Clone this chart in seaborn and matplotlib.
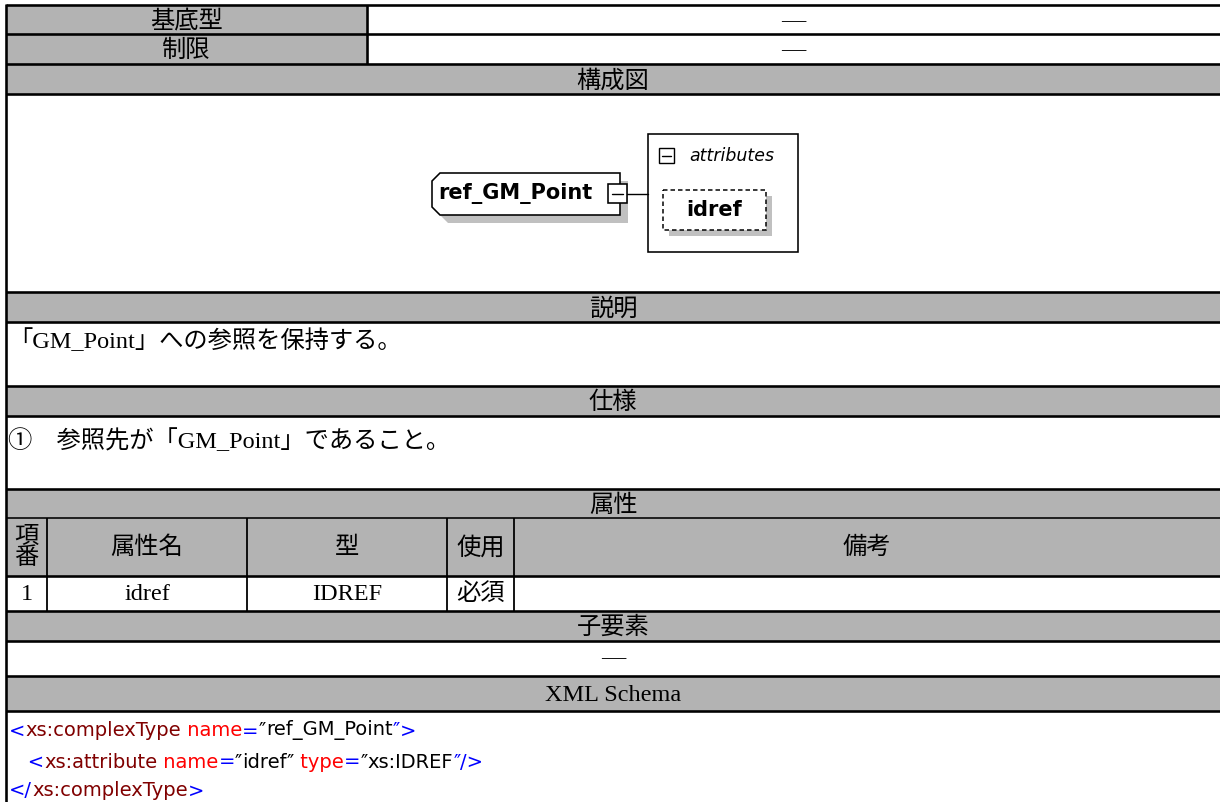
import matplotlib
matplotlib.use("Agg")
import matplotlib.pyplot as plt
import seaborn as sns
from matplotlib.patches import Rectangle, Polygon

# Data
info_labels = ["基底型", "制限"]
info_values = ["―", "―"]
section_titles = ["構成図", "説明", "仕様", "属性", "子要素", "XML Schema"]
description = "「GM_Point」への参照を保持する。"
spec_text = "①　参照先が「GM_Point」であること。"
attr_columns = ["項\n番", "属性名", "型", "使用", "備考"]
attr_rows = [["1", "idref", "IDREF", "必須", ""]]
child_elements = "―"
element_name = "ref_GM_Point"
group_name = "attributes"
attribute_names = ["idref"]

BLUE, MAROON, RED, BLACK = "#0000ff", "#800000", "#ff0000", "#000000"
xml_line1 = [("<", BLUE), ("xs:complexType", MAROON), (" name", RED), ("=", BLUE),
             ("″", BLACK), ("ref_GM_Point", BLACK), ("″", BLUE), (">", BLUE)]
xml_line2 = [("   <", BLUE), ("xs:attribute", MAROON), (" name", RED), ("=", BLUE),
             ("″", BLACK), ("idref", BLACK), ("″", BLACK), (" type", RED), ("=", BLUE),
             ("″", BLACK), ("xs:IDREF", BLACK), ("″", BLUE), ("/>", BLUE)]
xml_line3 = [("</", BLUE), ("xs:complexType", MAROON), (">", BLUE)]
xml_lines = [xml_line1, xml_line2, xml_line3]

sns.set_theme(style="white")
plt.rcParams["font.family"] = ["Noto Sans CJK JP", "DejaVu Sans"]
plt.rcParams["text.color"] = "black"

GRAY = "#b3b3b3"
SHADOW = "#c0c0c0"
W, H = 1220, 802
L = 6
PX = 0.72  # points per pixel at dpi 100
tfont = dict(family=["Liberation Serif", "Noto Sans CJK JP"], fontsize=17.5, color="black")

fig = plt.figure(figsize=(W / 100, H / 100), dpi=100)
ax = fig.add_axes([0, 0, 1, 1])
ax.set_xlim(0, W)
ax.set_ylim(H, 0)
ax.axis("off")


def fill(x0, y0, x1, y1, color=GRAY):
    ax.add_patch(Rectangle((x0, y0), x1 - x0, y1 - y0, facecolor=color, edgecolor="none", zorder=1))


def hline(y, x0=L, x1=W, px=2.6):
    ax.plot([x0, x1], [y, y], color="black", lw=px * PX, solid_capstyle="butt", zorder=5)


def vline(x, y0, y1, px=2.6):
    ax.plot([x, x], [y0, y1], color="black", lw=px * PX, solid_capstyle="butt", zorder=5)


def ctext(x, y, s, **kw):
    ax.text(x, y + 2, s, ha="center", va="center", zorder=6, **{**tfont, **kw})


mid = (L + W) / 2

# info rows
rows_info = [(5, 34), (34, 64)]
for (y0, y1), lab, val in zip(rows_info, info_labels, info_values):
    fill(L, y0, 367, y1)
    ctext((L + 367) / 2, (y0 + y1) / 2, lab)
    ctext((367 + W) / 2, (y0 + y1) / 2, val)
vline(367, 5, 64)

# section headers
headers = [(64, 94), (292, 322), (386, 416), (489, 518), (611, 641), (676, 711)]
for (y0, y1), title in zip(headers, section_titles):
    fill(L, y0, W, y1)
    ctext(mid, (y0 + y1) / 2, title)

# description / spec
ax.text(8, 341, description, ha="left", va="center", zorder=6, **tfont)
ax.text(8, 441, spec_text, ha="left", va="center", zorder=6, **tfont)

# attribute table
col_x = [L, 47, 247, 447, 514, W]
fill(L, 518, W, 576)
for i, name in enumerate(attr_columns):
    cx = (col_x[i] + col_x[i + 1]) / 2
    ctext(cx, 546, name, linespacing=0.92)
for r, row in enumerate(attr_rows):
    for i, val in enumerate(row):
        cx = (col_x[i] + col_x[i + 1]) / 2
        ctext(cx, 592, val)
for x in col_x[1:-1]:
    vline(x, 518, 611, px=1.8)

# child elements
ctext(mid, 657, child_elements)

# grid lines
for y in [5, 34, 64, 94, 292, 322, 386, 416, 489, 576, 611, 641, 676, 711]:
    hline(y)
hline(518, px=1.6)
vline(L, 4, H, px=2.6)

# diagram
shape = [(440, 173), (620, 173), (620, 215), (440, 215), (432, 207), (432, 181)]
ax.add_patch(Polygon([(x + 8, y + 8) for x, y in shape], closed=True,
                     facecolor=SHADOW, edgecolor="none", zorder=2))
ax.add_patch(Polygon(shape, closed=True, facecolor="white", edgecolor="black",
                     lw=1.6 * PX, zorder=3))
ax.text(438, 193, element_name, ha="left", va="center", fontsize=15, color="black",
        fontweight="bold", family="DejaVu Sans", zorder=4)
ax.add_patch(Rectangle((608, 184), 19, 19, facecolor="white", edgecolor="black",
                       lw=1.6 * PX, zorder=4))
ax.plot([612, 623], [193.5, 193.5], color="black", lw=1.4 * PX, zorder=4)
ax.plot([627, 648], [193.5, 193.5], color="black", lw=1.4 * PX, zorder=4)

ax.add_patch(Rectangle((648, 134), 150, 118, facecolor="white", edgecolor="black",
                       lw=1.6 * PX, zorder=3))
ax.add_patch(Rectangle((659, 148), 15, 15, facecolor="white", edgecolor="black",
                       lw=1.4 * PX, zorder=4))
ax.plot([662, 671], [155.5, 155.5], color="black", lw=1.4 * PX, zorder=4)
ax.text(689, 156, group_name, ha="left", va="center", fontsize=12.5, style="italic",
        color="black", family="DejaVu Sans", zorder=4)

for k, attr in enumerate(attribute_names):
    y0 = 190 + k * 50
    ax.add_patch(Rectangle((669, y0 + 6), 103, 40, facecolor=SHADOW, edgecolor="none", zorder=3))
    ax.add_patch(Rectangle((663, y0), 103, 40, facecolor="white", edgecolor="black",
                           lw=1.5 * PX, linestyle=(0, (3, 2)), zorder=4))
    ax.text(714.5, y0 + 20, attr, ha="center", va="center", fontsize=15, color="black",
            fontweight="bold", family="DejaVu Sans", zorder=5)

# XML schema text
xfont = dict(family="DejaVu Sans", fontsize=14)
for line, y in zip(xml_lines, [731, 762, 791]):
    t = ax.text(9, y, line[0][0], color=line[0][1], ha="left", va="center", zorder=6, **xfont)
    for s, c in line[1:]:
        t = ax.annotate(s, xy=(1, 0), xycoords=t, ha="left", va="bottom",
                        color=c, zorder=6, **xfont)

fig.savefig("out.png", dpi=100, facecolor="white")
